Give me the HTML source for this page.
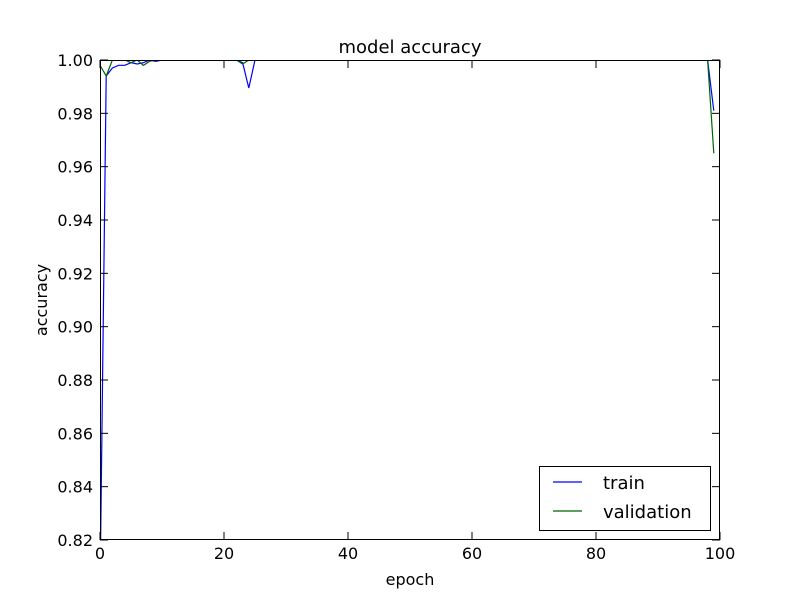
<!DOCTYPE html>
<html><head><meta charset="utf-8"><style>
body{margin:0;background:#fff;}
svg text{font-family:"DejaVu Sans","Liberation Sans",sans-serif;fill:#000;}
</style></head><body>
<svg id="chart" width="800" height="600" xmlns="http://www.w3.org/2000/svg">
<rect width="800" height="600" fill="#fff"/>
<defs><clipPath id="plotclip"><rect x="100" y="60" width="620" height="480"/></clipPath></defs>
<g id="series" clip-path="url(#plotclip)"></g>
<g id="axes"></g>
<text x="410" y="53" font-size="18" text-anchor="middle">model accuracy</text>
<text x="410" y="585" font-size="16" text-anchor="middle">epoch</text>
<text x="47" y="300" font-size="16" text-anchor="middle" transform="rotate(-90 47 300)">accuracy</text>
<g>
<rect x="539.5" y="466.5" width="171" height="64" fill="#fff" stroke="#000" stroke-width="1"/>
<line x1="553" y1="482" x2="582" y2="482" stroke="#0000ff" stroke-width="1.2"/>
<text x="603" y="489" font-size="18">train</text>
<line x1="553" y1="511" x2="582" y2="511" stroke="#006400" stroke-width="1.2"/>
<text x="603" y="518" font-size="18">validation</text>
</g>
</svg>
<script>
const xTicks = [0, 20, 40, 60, 80, 100];
const yTicks = [0.82, 0.84, 0.86, 0.88, 0.90, 0.92, 0.94, 0.96, 0.98, 1.00];
const yTickLabels = ["0.82","0.84","0.86","0.88","0.90","0.92","0.94","0.96","0.98","1.00"];
const trainAcc = [0.80,0.994,0.997,0.998,0.998,0.999,0.9985,0.999,1.0,0.9995,
1.0,1.0,1.0,1.0,1.0,1.0,1.0,1.0,1.0,1.0,
1.0,1.0,1.0,0.999,0.9895,1.0,1.0,1.0,1.0,1.0,
1.0,1.0,1.0,1.0,1.0,1.0,1.0,1.0,1.0,1.0,
1.0,1.0,1.0,1.0,1.0,1.0,1.0,1.0,1.0,1.0,
1.0,1.0,1.0,1.0,1.0,1.0,1.0,1.0,1.0,1.0,
1.0,1.0,1.0,1.0,1.0,1.0,1.0,1.0,1.0,1.0,
1.0,1.0,1.0,1.0,1.0,1.0,1.0,1.0,1.0,1.0,
1.0,1.0,1.0,1.0,1.0,1.0,1.0,1.0,1.0,1.0,
1.0,1.0,1.0,1.0,1.0,1.0,1.0,1.0,1.0,0.981];
const valAcc = [0.998,0.994,1.0,1.0,1.0,0.999,1.0,0.998,0.9995,1.0,
1.0,1.0,1.0,1.0,1.0,1.0,1.0,1.0,1.0,1.0,
1.0,1.0,1.0,0.9985,1.0,1.0,1.0,1.0,1.0,1.0,
1.0,1.0,1.0,1.0,1.0,1.0,1.0,1.0,1.0,1.0,
1.0,1.0,1.0,1.0,1.0,1.0,1.0,1.0,1.0,1.0,
1.0,1.0,1.0,1.0,1.0,1.0,1.0,1.0,1.0,1.0,
1.0,1.0,1.0,1.0,1.0,1.0,1.0,1.0,1.0,1.0,
1.0,1.0,1.0,1.0,1.0,1.0,1.0,1.0,1.0,1.0,
1.0,1.0,1.0,1.0,1.0,1.0,1.0,1.0,1.0,1.0,
1.0,1.0,1.0,1.0,1.0,1.0,1.0,1.0,1.0,0.965];

const NS = "http://www.w3.org/2000/svg";
const X0=100, X1=720, Y0=540, Y1=60;
function xs(v){return X0+(v-0)/(100-0)*(X1-X0);}
function ys(v){return Y0-(v-0.82)/(1.00-0.82)*(Y0-Y1);}
const axes=document.getElementById('axes');
const series=document.getElementById('series');
function mk(tag,attrs,parent){const e=document.createElementNS(NS,tag);for(const k in attrs)e.setAttribute(k,attrs[k]);parent.appendChild(e);return e;}

function drawLine(arr,color,name){
  const pts=arr.map((v,i)=>xs(i).toFixed(2)+','+ys(v).toFixed(2)).join(' ');
  const p=mk('polyline',{points:pts,fill:'none',stroke:color,'stroke-width':1.2},series);
  
  
}
drawLine(trainAcc,'#0000ff','train-line');
drawLine(valAcc,'#006400','validation-line');

const frame=mk('rect',{x:100.5,y:60.5,width:619,height:479,fill:'none',stroke:'#000','stroke-width':1},axes);



xTicks.forEach(t=>{
  const x=xs(t);
  mk('line',{x1:x,y1:540,x2:x,y2:532,stroke:'#000'},axes);
  mk('line',{x1:x,y1:60,x2:x,y2:68,stroke:'#000'},axes);
  const tx=mk('text',{x:x,y:559,'font-size':16,'text-anchor':'middle'},axes);
  tx.textContent=t;
  
  
});
yTicks.forEach((t,i)=>{
  const y=ys(t);
  mk('line',{x1:100,y1:y,x2:108,y2:y,stroke:'#000'},axes);
  mk('line',{x1:720,y1:y,x2:712,y2:y,stroke:'#000'},axes);
  const tx=mk('text',{x:93,y:y+6,'font-size':16,'text-anchor':'end'},axes);
  tx.textContent=yTickLabels[i];
  
  
});
</script>
</body></html>
